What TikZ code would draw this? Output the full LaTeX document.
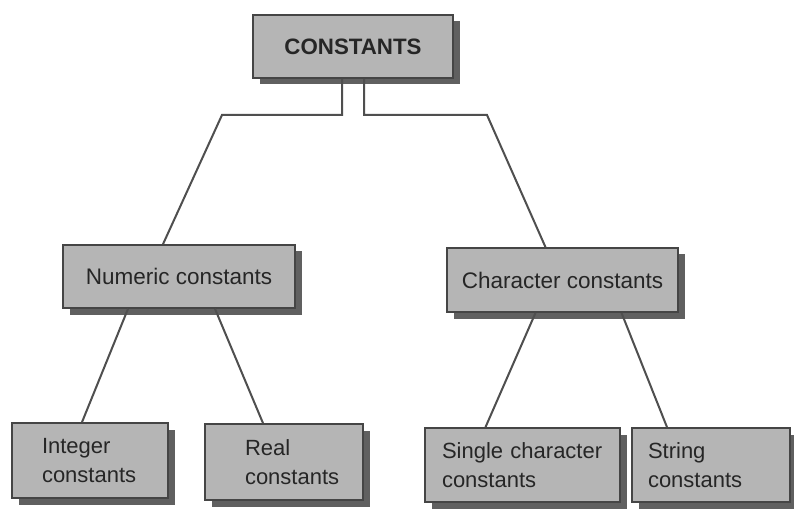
\documentclass[tikz,border=0pt]{standalone}
\usepackage{fontspec}
\setmainfont{Liberation Sans}
\usetikzlibrary{shadows,calc}
\definecolor{boxfill}{HTML}{B5B5B5}
\definecolor{boxline}{HTML}{454545}
\definecolor{shadowc}{HTML}{4F4F4F}
\definecolor{linec}{HTML}{4F4F4F}
\definecolor{txtc}{HTML}{262626}
\tikzset{
  box/.style={draw=boxline, line width=1.7pt, fill=boxfill, text=txtc,
    drop shadow={shadow xshift=6.5pt, shadow yshift=-6.5pt, fill=shadowc, opacity=0.9},
    font=\fontsize{22.5}{29}\selectfont, inner ysep=0pt},
  topbox/.style={box, font=\fontsize{22.3}{29}\selectfont\bfseries},
  leafbox/.style={box, align=left, font=\fontsize{22}{29}\selectfont},
  conn/.style={draw=linec, line width=2pt, line join=miter}
}
\begin{document}
\begin{tikzpicture}[x=1pt,y=-1pt]
\useasboundingbox (0,0) rectangle (794,510);
\fill[white] (0,0) rectangle (794,510);
\node[topbox, minimum width=200pt, minimum height=63pt] (top) at (353,46.5) {CONSTANTS};
\node[box, minimum width=232pt, minimum height=63pt] (num) at (179,276.5) {Numeric constants};
\node[box, minimum width=231pt, minimum height=64pt] (chr) at (562.5,280) {Character constants};
\node[leafbox, inner xsep=30pt, text width=96pt, minimum height=75pt] (int) at (90,460.5) {Integer\\constants};
\node[leafbox, inner xsep=40pt, text width=78pt, minimum height=76pt] (real) at (284,462) {Real\\constants};
\node[leafbox, inner xsep=17pt, text width=161pt, minimum height=74pt] (sgl) at (522.5,465) {Single character\\constants};
\node[leafbox, inner xsep=16pt, text width=126pt, minimum height=74pt] (str) at (711,465) {String\\constants};
\coordinate (kL) at (222,115);
\coordinate (kR) at (487,115);
\draw[conn] ([xshift=-11pt]top.south) |- (kL) -- ([xshift=-16pt]num.north);
\draw[conn] ([xshift=11pt]top.south) |- (kR) -- ([xshift=-17pt]chr.north);
\draw[conn] ([xshift=-51pt]num.south) -- ([xshift=-8pt]int.north);
\draw[conn] ([xshift=36pt]num.south) -- ([xshift=-21pt]real.north);
\draw[conn] ([xshift=-27pt]chr.south) -- ([xshift=-37pt]sgl.north);
\draw[conn] ([xshift=59pt]chr.south) -- ([xshift=-44pt]str.north);
\end{tikzpicture}
\end{document}
